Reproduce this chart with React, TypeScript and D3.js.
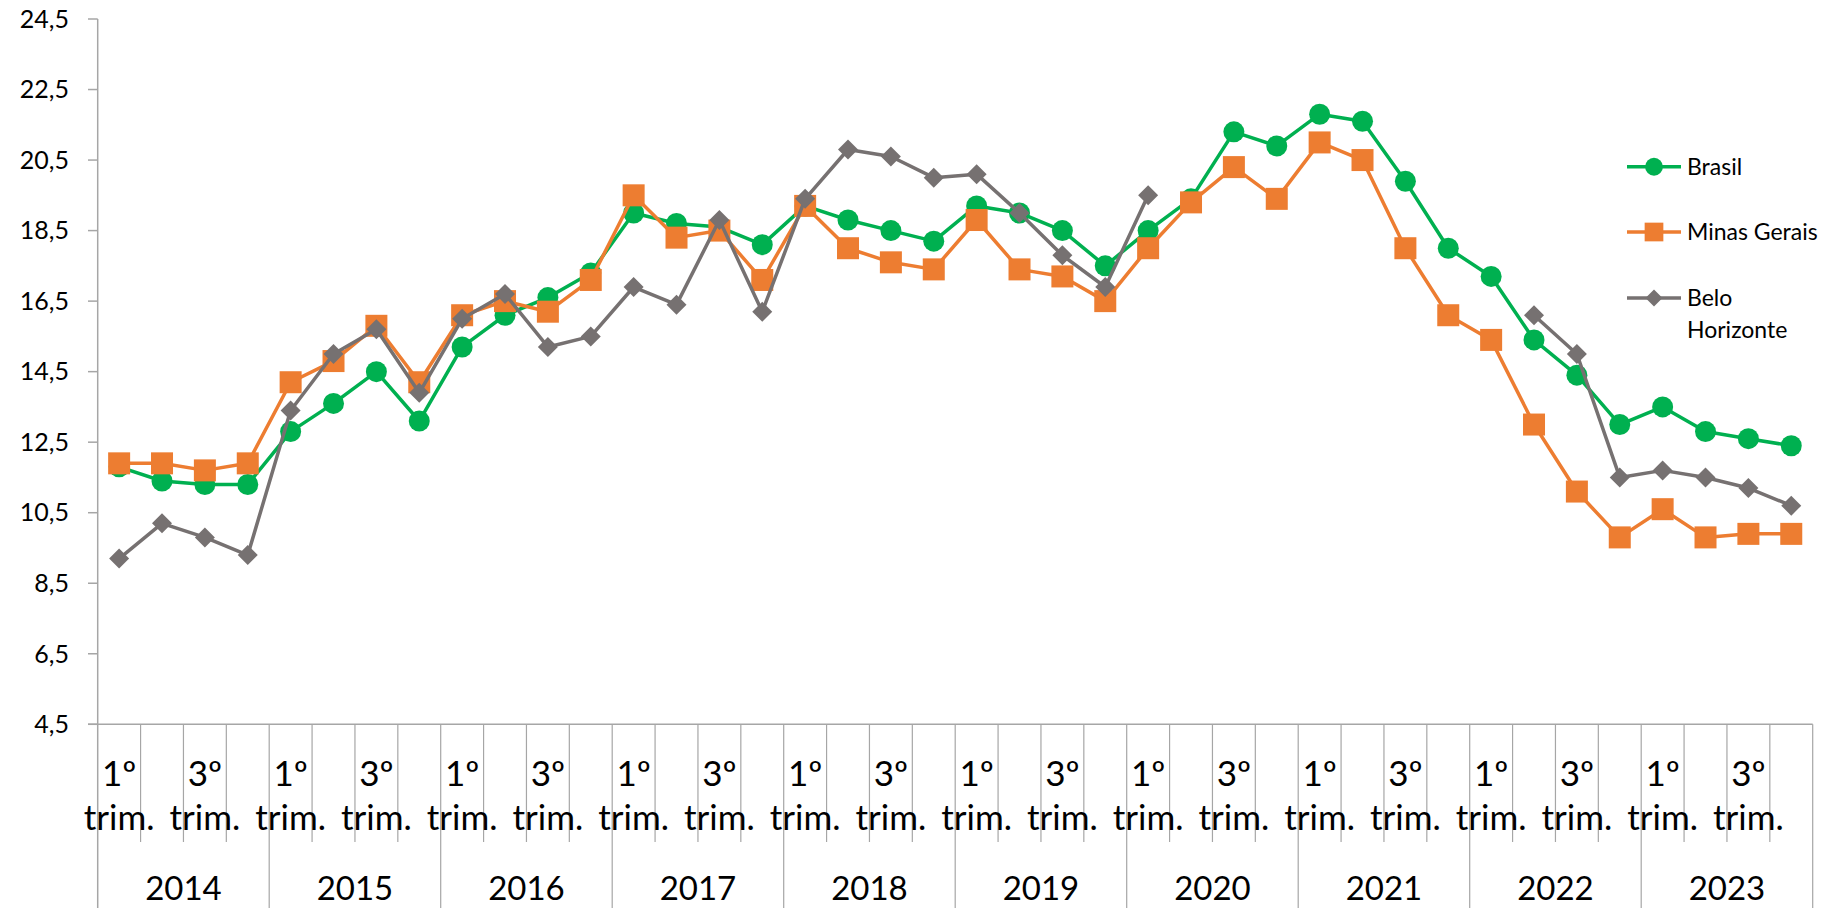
import * as d3 from "d3"

// quarterly values, 2014 Q1 .. 2023 Q4
const years = ["2014", "2015", "2016", "2017", "2018", "2019", "2020", "2021", "2022", "2023"]
const quarterLabels = ["1º", "", "3º", ""]

const brasil = [
  11.8, 11.4, 11.3, 11.3,
  12.8, 13.6, 14.5, 13.1,
  15.2, 16.1, 16.6, 17.3,
  19.0, 18.7, 18.6, 18.1,
  19.2, 18.8, 18.5, 18.2,
  19.2, 19.0, 18.5, 17.5,
  18.5, 19.4, 21.3, 20.9,
  21.8, 21.6, 19.9, 18.0,
  17.2, 15.4, 14.4, 13.0,
  13.5, 12.8, 12.6, 12.4,
]

const minasGerais = [
  11.9, 11.9, 11.7, 11.9,
  14.2, 14.8, 15.8, 14.2,
  16.1, 16.5, 16.2, 17.1,
  19.5, 18.3, 18.5, 17.1,
  19.2, 18.0, 17.6, 17.4,
  18.8, 17.4, 17.2, 16.5,
  18.0, 19.3, 20.3, 19.4,
  21.0, 20.5, 18.0, 16.1,
  15.4, 13.0, 11.1, 9.8,
  10.6, 9.8, 9.9, 9.9,
]

const beloHorizonte: (number | null)[] = [
  9.2, 10.2, 9.8, 9.3,
  13.4, 15.0, 15.7, 13.9,
  16.0, 16.7, 15.2, 15.5,
  16.9, 16.4, 18.8, 16.2,
  19.4, 20.8, 20.6, 20.0,
  20.1, 19.0, 17.8, 16.9,
  19.5, null, null, null,
  null, null, null, null,
  null, 16.1, 15.0, 11.5,
  11.7, 11.5, 11.2, 10.7,
]

const yTicks = [4.5, 6.5, 8.5, 10.5, 12.5, 14.5, 16.5, 18.5, 20.5, 22.5, 24.5]

const W = 1834
const H = 908
const FONT = "Lato, 'Open Sans', sans-serif"

const series = [
  { name: "Brasil", values: brasil, color: "#00B050", shape: "circle" },
  { name: "Minas Gerais", values: minasGerais, color: "#ED7D31", shape: "square" },
  { name: "Belo Horizonte", values: beloHorizonte, color: "#767171", shape: "diamond" },
]

const Marker = ({ shape, x, y, color, s = 1 }: { shape: string; x: number; y: number; color: string; s?: number }) => {
  if (shape === "circle") return <circle cx={x} cy={y} r={10.5 * s} fill={color} />
  if (shape === "square") {
    const h = 11 * s
    return <rect x={x - h} y={y - h} width={2 * h} height={2 * h} fill={color} />
  }
  const h = 10 * s
  return <path d={`M${x},${y - h}L${x + h},${y}L${x},${y + h}L${x - h},${y}Z`} fill={color} />
}

export default function App() {
  const n = years.length * 4
  const idx = d3.range(n)
  const x = d3.scaleBand<number>().domain(idx).range([97.7, 1812.7]).padding(0)
  const y = d3.scaleLinear().domain([4.5, 24.5]).range([724.3, 19])
  const cx = (i: number) => (x(i) as number) + x.bandwidth() / 2
  const axisY = y(4.5)
  const axisColor = "#A6A6A6"

  const line = d3
    .line<number | null>()
    .defined((d) => d != null)
    .x((_, i) => cx(i))
    .y((d) => y(d as number))

  return (
    <svg width={W} height={H} style={{ position: "absolute", left: 0, top: 0, background: "#fff" }} fontFamily={FONT}>
      {/* y axis */}
      <line x1={97.7} x2={97.7} y1={y(24.5)} y2={H} stroke={axisColor} strokeWidth={1.5} />
      {yTicks.map((t) => (
        <g key={t}>
          <line x1={88} x2={97.7} y1={y(t)} y2={y(t)} stroke={axisColor} strokeWidth={1.5} />
          <text x={69} y={y(t)} dy="0.35em" textAnchor="end" fontSize={25} fill="#000">
            {d3.format(".1f")(t).replace(".", ",")}
          </text>
        </g>
      ))}

      {/* x axis */}
      <line x1={88} x2={1812.7} y1={axisY} y2={axisY} stroke={axisColor} strokeWidth={1.5} />
      {idx.map((i) => {
        const q = i % 4
        const xb = (x(i) as number) + x.bandwidth()
        return (
          <g key={i}>
            <line x1={xb} x2={xb} y1={axisY} y2={q === 3 ? H : 842} stroke={axisColor} strokeWidth={1.2} />
            {quarterLabels[q] && (
              <text x={cx(i)} textAnchor="middle" fontSize={35} fill="#000">
                <tspan x={cx(i)} y={786}>{quarterLabels[q]}</tspan>
                <tspan x={cx(i)} y={830}>trim.</tspan>
              </text>
            )}
          </g>
        )
      })}
      {years.map((yr, k) => (
        <text key={yr} x={(cx(k * 4 + 1) + cx(k * 4 + 2)) / 2} y={900} textAnchor="middle" fontSize={33} fill="#000">
          {yr}
        </text>
      ))}

      {/* series */}
      {series.map((s) => (
        <g key={s.name}>
          <path d={line(s.values) ?? ""} fill="none" stroke={s.color} strokeWidth={3.5} strokeLinejoin="round" />
          {s.values.map((v, i) =>
            v == null ? null : <Marker key={i} shape={s.shape} x={cx(i)} y={y(v)} color={s.color} />
          )}
        </g>
      ))}

      {/* legend */}
      {series.map((s, k) => {
        const ly = [166.7, 232, 298][k]
        return (
          <g key={s.name}>
            <line x1={1627} x2={1681} y1={ly} y2={ly} stroke={s.color} strokeWidth={3.5} />
            <Marker shape={s.shape} x={1654} y={ly} color={s.color} s={0.85} />
            {s.name === "Belo Horizonte" ? (
              <text fontSize={23} fill="#000">
                <tspan x={1687} y={ly} dy="0.35em">Belo</tspan>
                <tspan x={1687} y={ly + 32} dy="0.35em">Horizonte</tspan>
              </text>
            ) : (
              <text x={1687} y={ly} dy="0.35em" fontSize={23} fill="#000">
                {s.name}
              </text>
            )}
          </g>
        )
      })}
    </svg>
  )
}
